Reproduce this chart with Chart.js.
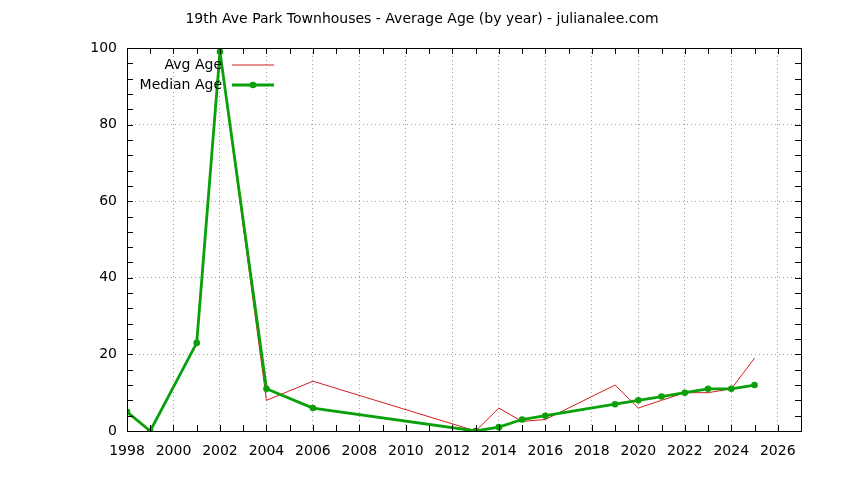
<!DOCTYPE html>
<html>
<head>
<meta charset="utf-8">
<script src="https://cdn.jsdelivr.net/npm/chart.js@4/dist/chart.umd.min.js"></script>
<style>
  html, body { margin: 0; padding: 0; background: #fff; }
  #wrap { width: 844px; height: 480px; }
</style>
</head>
<body>
<div id="wrap"><canvas id="ageChart" width="844" height="480"></canvas></div>
<script>
"use strict";

// data
const years = [1998, 1999, 2001, 2002, 2004, 2006, 2013, 2014, 2015, 2016, 2019, 2020, 2021, 2022, 2023, 2024, 2025];
const avgAge = [5, 0, 23, 99, 8, 13, 0, 6, 2.5, 3, 12, 6, 8, 10, 10, 11, 19];
const medianAge = [5, 0, 23, 99, 11, 6, 0, 1, 3, 4, 7, 8, 9, 10, 11, 11, 12];
const xRange = [1998, 2027];
const yRange = [0, 100];

const TITLE = '19th Ave Park Townhouses - Average Age (by year) - julianalee.com';
const FONT = '"DejaVu Sans", sans-serif';
const RED = '#d41c1c';
const GREEN = '#0aa00a';

const toPoints = (vals) => years.map((y, i) => ({ x: y, y: vals[i] }));

// frame, inward tick marks on all four sides, title and legend (gnuplot look)
const gnuplotFrame = {
    id: 'gnuplotFrame',
    afterDraw(chart) {
        const { ctx, chartArea: a, scales } = chart;
        const len = 6;
        ctx.save();
        ctx.strokeStyle = '#000';
        ctx.lineWidth = 1;
        ctx.beginPath();
        for (let yr = xRange[0]; yr <= xRange[1]; yr++) {
            const px = Math.round(scales.x.getPixelForValue(yr)) + 0.5;
            ctx.moveTo(px, a.bottom); ctx.lineTo(px, a.bottom - len);
            ctx.moveTo(px, a.top); ctx.lineTo(px, a.top + len);
        }
        for (let v = yRange[0]; v <= yRange[1]; v += 4) {
            const py = Math.round(scales.y.getPixelForValue(v)) + 0.5;
            ctx.moveTo(a.left, py); ctx.lineTo(a.left + len, py);
            ctx.moveTo(a.right, py); ctx.lineTo(a.right - len, py);
        }
        ctx.stroke();
        ctx.strokeRect(Math.round(a.left) + 0.5, Math.round(a.top) + 0.5,
            Math.round(a.right - a.left), Math.round(a.bottom - a.top));

        // title
        ctx.fillStyle = '#000';
        ctx.font = '14px ' + FONT;
        ctx.textAlign = 'center';
        ctx.textBaseline = 'middle';
        ctx.fillText(TITLE, chart.width / 2, 19);

        // legend
        ctx.font = '14px ' + FONT;
        ctx.textAlign = 'right';
        const rows = [
            { label: 'Avg Age', color: RED, width: 1, marker: false, y: 65 },
            { label: 'Median Age', color: GREEN, width: 2.8, marker: true, y: 85 }
        ];
        rows.forEach(r => {
            ctx.fillStyle = '#000';
            ctx.fillText(r.label, 222, r.y);
            ctx.strokeStyle = r.color;
            ctx.lineWidth = r.width;
            ctx.beginPath();
            ctx.moveTo(232, r.y);
            ctx.lineTo(274, r.y);
            ctx.stroke();
            if (r.marker) {
                ctx.fillStyle = r.color;
                ctx.beginPath();
                ctx.arc(253, r.y, 3.3, 0, Math.PI * 2);
                ctx.fill();
            }
        });
        ctx.restore();
    }
};

const gridColor = (major) => (c) => {
    const v = c.tick ? c.tick.value : null;
    return (v !== null && major(v)) ? '#a0a0a0' : 'rgba(0,0,0,0)';
};

new Chart(document.getElementById('ageChart'), {
    type: 'line',
    data: {
        datasets: [
            {
                label: 'Avg Age',
                data: toPoints(avgAge),
                borderColor: RED,
                borderWidth: 1,
                pointRadius: 0,
                tension: 0,
                order: 2
            },
            {
                label: 'Median Age',
                data: toPoints(medianAge),
                borderColor: GREEN,
                backgroundColor: GREEN,
                borderWidth: 2.8,
                pointRadius: 3.3,
                pointBackgroundColor: GREEN,
                pointBorderWidth: 0,
                tension: 0,
                order: 1
            }
        ]
    },
    options: {
        responsive: false,
        animation: false,
        events: [],
        layout: { padding: { top: 48, right: 43, left: 0, bottom: 0 } },
        scales: {
            x: {
                type: 'linear',
                min: xRange[0],
                max: xRange[1],
                afterFit: (s) => { s.height = 49; },
                afterBuildTicks: (s) => {
                    const t = [];
                    for (let v = xRange[0]; v <= xRange[1]; v++) t.push({ value: v });
                    s.ticks = t;
                },
                ticks: {
                    autoSkip: false,
                    maxRotation: 0,
                    padding: 12,
                    color: '#000',
                    font: { family: FONT, size: 14 },
                    callback: (v) => (v % 2 === 0 ? String(v) : '')
                },
                grid: {
                    drawTicks: false,
                    lineWidth: 1,
                    color: gridColor(v => v % 2 === 0 && v > xRange[0] && v < xRange[1])
                },
                border: { display: false, dash: [1, 3] }
            },
            y: {
                min: yRange[0],
                max: yRange[1],
                afterFit: (s) => { s.width = 127; },
                ticks: {
                    stepSize: 20,
                    padding: 10,
                    color: '#000',
                    font: { family: FONT, size: 14 }
                },
                grid: {
                    drawTicks: false,
                    lineWidth: 1,
                    color: gridColor(v => v > yRange[0] && v < yRange[1])
                },
                border: { display: false, dash: [1, 3] }
            }
        },
        plugins: {
            legend: { display: false },
            title: { display: false },
            tooltip: { enabled: false }
        }
    },
    plugins: [gnuplotFrame]
});
</script>
</body>
</html>
